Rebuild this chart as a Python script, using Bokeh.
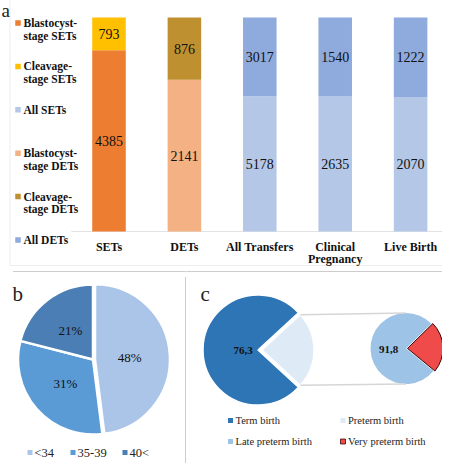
import numpy as np
from bokeh.plotting import figure
from bokeh.layouts import column, row
from bokeh.models import Range1d
from bokeh.core.properties import value
from bokeh.embed import file_html
from bokeh.resources import INLINE

# ---------------- data ----------------
# panel a (100% stacked bars)
categories = ["SETs", "DETs", "All Transfers", "Clinical Pregnancy", "Live Birth"]
category_tick_labels = ["SETs", "DETs", "All Transfers", "Clinical\nPregnancy", "Live Birth"]
lower_values = [4385, 2141, 5178, 2635, 2070]
upper_values = [793, 876, 3017, 1540, 1222]
lower_series = ["Blastocyst-stage SETs", "Blastocyst-stage DETs", "All SETs", "All SETs", "All SETs"]
upper_series = ["Cleavage-stage SETs", "Cleavage-stage DETs", "All DETs", "All DETs", "All DETs"]
legend_a_series = ["Blastocyst-stage SETs", "Cleavage-stage SETs", "All SETs",
                   "Blastocyst-stage DETs", "Cleavage-stage DETs", "All DETs"]
legend_a_text = ["Blastocyst-\nstage SETs", "Cleavage-\nstage SETs", "All SETs",
                 "Blastocyst-\nstage DETs", "Cleavage-\nstage DETs", "All DETs"]

# panel b (age groups)
age_groups = ["<34", "35-39", "40<"]
age_shares = [48, 31, 21]
age_labels = ["48%", "31%", "21%"]

# panel c (pie of pie)
birth_types = ["Term birth", "Preterm birth"]
birth_shares = [76.3, 23.7]
preterm_types = ["Late preterm birth", "Very preterm birth"]
preterm_shares = [76.7, 23.3]     # as drawn in the picture
term_label = "76,3"
late_preterm_label = "91,8"

# ---------------- styles ----------------
FONT = "Liberation Serif"
series_colors = {
    "Blastocyst-stage SETs": "#ED7D31",
    "Cleavage-stage SETs": "#FFC000",
    "All SETs": "#B4C7E7",
    "Blastocyst-stage DETs": "#F4B183",
    "Cleavage-stage DETs": "#BF9030",
    "All DETs": "#8FAADC",
}
age_colors = ["#AAC5E8", "#5B9BD5", "#4A7EB5"]
birth_colors = ["#2E75B6", "#DEEBF7"]
preterm_colors = ["#9DC3E6", "#EF4B4B"]
DOT = "#9A9A9A"
FAINT = "#EDEDED"


def bare(p):
    p.axis.visible = False
    p.grid.visible = False
    p.outline_line_color = None
    return p


# ---------------- panel a ----------------
W, HA = 442, 266
xs = list(range(len(categories)))
low_frac = [lo / (lo + up) for lo, up in zip(lower_values, upper_values)]
pa = bare(figure(width=W, height=HA, x_range=Range1d(-1.439, 4.423), y_range=Range1d(-0.1636, 1.0794),
                 toolbar_location=None, output_backend="svg", min_border=0))
pa.extra_x_ranges = {"px": Range1d(0, W)}
pa.extra_y_ranges = {"px": Range1d(HA, 0)}

# faint panel frame
pa.line(x=[9.5, 9.5, W], y=[0, 265, 265], line_color=FAINT, line_width=1,
        x_range_name="px", y_range_name="px")
# baseline (category axis)
pa.line(x=[-0.5, 4.5], y=[0, 0], line_color="#E3E3E3", line_width=1)

bw = 0.445
pa.vbar(x=xs, bottom=0, top=low_frac, width=bw,
        fill_color=[series_colors[s] for s in lower_series], line_color=None)
pa.vbar(x=xs, bottom=low_frac, top=1, width=bw,
        fill_color=[series_colors[s] for s in upper_series], line_color=None)
pa.text(x=xs, y=[f / 2 for f in low_frac], text=[str(v) for v in lower_values],
        text_font=value(FONT), text_font_size="14px", text_align="center",
        text_baseline="middle", text_color="#111111")
pa.text(x=xs, y=[(f + 1) / 2 for f in low_frac], text=[str(v) for v in upper_values],
        text_font=value(FONT), text_font_size="14px", text_align="center",
        text_baseline="middle", text_color="#111111")

# category labels (below the baseline)
for i, lab in zip(xs, category_tick_labels):
    for j, line in enumerate(lab.split("\n")):
        pa.text(x=[i], y=[246 + 12.5 * j], text=[line], text_font=value(FONT),
                text_font_style="bold", text_font_size="12px", text_align="center",
                text_baseline="middle", text_color="#111111", y_range_name="px")

# legend
pa.text(x=[1], y=[9.5], text=["a"], text_font=value(FONT), text_font_size="19px",
        text_baseline="alphabetic", text_color="#222222", x_range_name="px", y_range_name="px")
for i, (s, t) in enumerate(zip(legend_a_series, legend_a_text)):
    y0 = 22.5 + 43.4 * i
    pa.rect(x=[17.5], y=[y0], width=5.5, height=5.5, fill_color=series_colors[s], line_color=None,
            x_range_name="px", y_range_name="px")
    for j, line in enumerate(t.split("\n")):
        pa.text(x=[23], y=[y0 + 12.5 * j], text=[line], text_font=value(FONT),
                text_font_style="bold", text_font_size="11.5px", text_baseline="middle",
                text_color="#111111", x_range_name="px", y_range_name="px")

# ---------------- panel b : pie ----------------
HB = 197
pb = bare(figure(width=186, height=HB, x_range=Range1d(-92.5, 93.5), y_range=Range1d(-104, 93),
                 toolbar_location=None, output_backend="svg", min_border=0))
Rb = 75
fr = np.array(age_shares, dtype=float) / sum(age_shares)
c1 = np.cumsum(fr)
c0 = c1 - fr
starts = np.pi / 2 - 2 * np.pi * c0
ends = np.pi / 2 - 2 * np.pi * c1
mids = (starts + ends) / 2
explode_b = [2, 0, 0]
for i in range(len(age_shares)):
    ox, oy = explode_b[i] * np.cos(mids[i]), explode_b[i] * np.sin(mids[i])
    pb.wedge(x=[ox], y=[oy], radius=Rb, start_angle=starts[i], end_angle=ends[i],
             direction="clock", fill_color=age_colors[i], line_color="white", line_width=2.5)
pb.text(x=list(0.49 * Rb * np.cos(mids)), y=list(0.49 * Rb * np.sin(mids)), text=age_labels,
        text_font=value(FONT), text_font_size="13px", text_align="center",
        text_baseline="middle", text_color="#111111")
leg_bx = [-63, -20, 32]
pb.rect(x=leg_bx, y=[-93] * 3, width=5, height=5, fill_color=age_colors, line_color=None)
pb.text(x=[v + 4.5 for v in leg_bx], y=[-93] * 3, text=age_groups, text_font=value(FONT),
        text_font_size="12.5px", text_baseline="middle", text_color="#222222")
pb.text(x=[-80.5], y=[66], text=["b"], text_font=value(FONT), text_font_size="21px",
        text_baseline="alphabetic", text_color="#222222")
pb.line(x=[-79.5, 93.5], y=[88, 88], line_dash="1 1", line_color=DOT, line_width=1)
pb.line(x=[92.5, 92.5], y=[82, -104], line_dash="1 1", line_color=DOT, line_width=1)

# ---------------- panel c : pie of pie ----------------
pc = bare(figure(width=256, height=HB, x_range=Range1d(-71.5, 184.5), y_range=Range1d(-113.5, 83.5),
                 toolbar_location=None, output_backend="svg", min_border=0))
pc.line(x=[-71.5, 184.5], y=[78.5, 78.5], line_dash="1 1", line_color=DOT, line_width=1)
pc.text(x=[-57.5], y=[56.5], text=["c"], text_font=value(FONT), text_font_size="21px",
        text_baseline="alphabetic", text_color="#222222")

# big pie
f_big = np.array(birth_shares) / sum(birth_shares)
a0 = np.pi * f_big[1]
cb1 = np.cumsum(f_big)
cb0 = cb1 - f_big
bs = a0 + 2 * np.pi * cb0
be = a0 + 2 * np.pi * cb1
bm = (bs + be) / 2
big_r = [55, 52]
big_ex = [0, 4]
for i in range(2):
    ox, oy = big_ex[i] * np.cos(bm[i]), big_ex[i] * np.sin(bm[i])
    pc.wedge(x=[ox], y=[oy], radius=big_r[i], start_angle=bs[i], end_angle=be[i],
             direction="anticlock", fill_color=birth_colors[i], line_color="white", line_width=1.5)

# small pie
scx, scy, Rs = 148, 1.5, 35.5
f_small = np.array(preterm_shares) / sum(preterm_shares)
a1 = np.pi * f_small[1] + np.radians(2.5)
cs1 = np.cumsum(f_small)
cs0 = cs1 - f_small
ss = a1 + 2 * np.pi * cs0
se = a1 + 2 * np.pi * cs1
sm = (ss + se) / 2
small_ex = [0, 1.5]
small_line = [None, "#3B0A0A"]
for i in range(2):
    ox, oy = small_ex[i] * np.cos(sm[i]), small_ex[i] * np.sin(sm[i])
    pc.wedge(x=[scx + ox], y=[scy + oy], radius=Rs, start_angle=ss[i], end_angle=se[i],
             direction="anticlock", fill_color=preterm_colors[i], line_color=small_line[i],
             line_width=1)

# connector lines
px0 = big_ex[1] * np.cos(bm[1])
top_pt = (px0 + big_r[1] * np.cos(be[1]), big_r[1] * np.sin(be[1]))
bot_pt = (px0 + big_r[1] * np.cos(bs[1]), big_r[1] * np.sin(bs[1]))
pc.line(x=[top_pt[0], scx], y=[top_pt[1], scy + Rs], line_color="#D6D6D6", line_width=1.5)
pc.line(x=[bot_pt[0], scx], y=[bot_pt[1], scy - Rs], line_color="#D6D6D6", line_width=1.5)

# slice labels
pc.text(x=[0.27 * big_r[0] * np.cos(bm[0])], y=[0.27 * big_r[0] * np.sin(bm[0])], text=[term_label],
        text_font=value(FONT), text_font_style="bold", text_font_size="11px",
        text_align="center", text_baseline="middle", text_color="#111111")
pc.text(x=[scx + 0.49 * Rs * np.cos(sm[0])], y=[scy + 0.49 * Rs * np.sin(sm[0])],
        text=[late_preterm_label], text_font=value(FONT), text_font_style="bold",
        text_font_size="11px", text_align="center", text_baseline="middle", text_color="#111111")

# legend c
leg_items = [birth_types[0], birth_types[1], preterm_types[0], preterm_types[1]]
leg_cols = [birth_colors[0], birth_colors[1], preterm_colors[0], preterm_colors[1]]
leg_lines = [None, None, None, "#3B0A0A"]
leg_x = [-27.5, 85, -27.5, 85]
leg_y = [-70.5, -70.5, -91.5, -91.5]
for t, c, lc, lx, ly in zip(leg_items, leg_cols, leg_lines, leg_x, leg_y):
    pc.rect(x=[lx], y=[ly], width=5, height=5, fill_color=c, line_color=lc, line_width=0.8)
    pc.text(x=[lx + 5], y=[ly], text=[t], text_font=value(FONT), text_font_size="10.5px",
            text_baseline="middle", text_color="#222222")

layout = column(pa, row(pb, pc, spacing=0), spacing=0)
open("out.html", "w").write(file_html(layout, INLINE))
